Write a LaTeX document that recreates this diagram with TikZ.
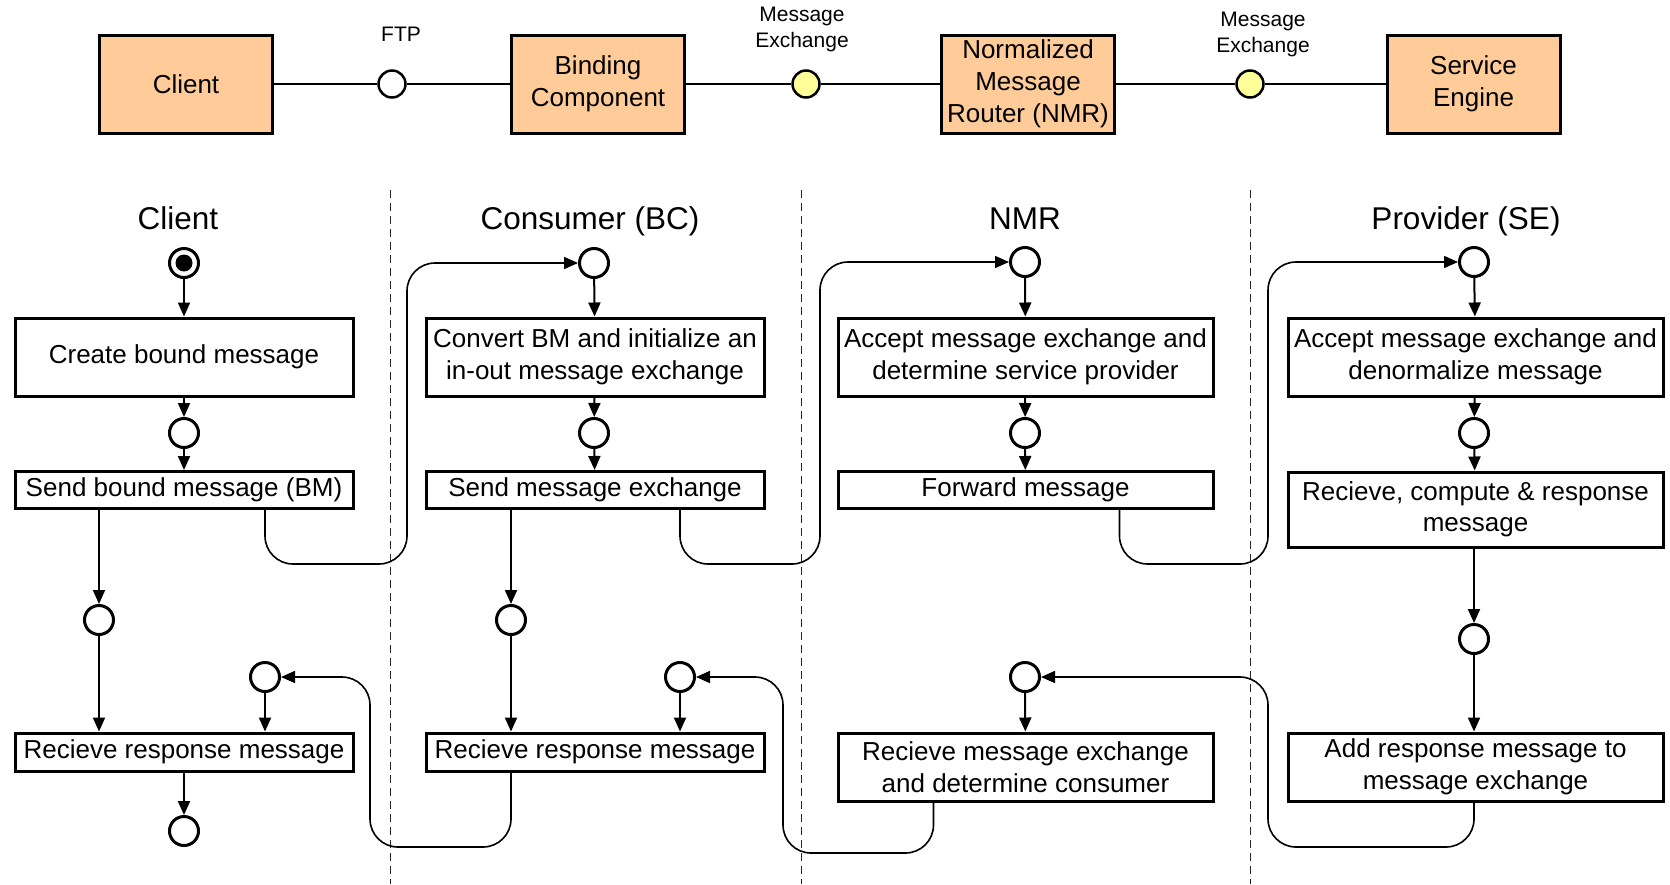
\documentclass[tikz,border=0pt]{standalone}
\usepackage{fontspec}
\setmainfont{Liberation Sans}
\usetikzlibrary{arrows.meta,calc}
\definecolor{boxfill}{HTML}{FFCC99}
\definecolor{yel}{HTML}{FFFF99}
\begin{document}
\begin{tikzpicture}[x=1pt,y=-1pt,
  comp/.style={draw, line width=3pt, fill=boxfill, minimum width=173pt, minimum height=98pt, align=center, font=\fontsize{26}{32}\selectfont, inner sep=0pt},
  act/.style={draw, line width=3pt, align=center, font=\fontsize{26}{31.5}\selectfont, inner sep=0pt},
  st/.style={circle, draw, line width=3pt, minimum size=29pt, inner sep=0pt},
  port/.style={circle, draw, line width=2.5pt, minimum size=27pt, inner sep=0pt},
  lbl/.style={font=\fontsize{21}{26}\selectfont, align=center},
  hdr/.style={font=\fontsize{31.5}{36}\selectfont, anchor=base},
  link/.style={line width=1.8pt},
  arr/.style={line width=2pt, -{Triangle[length=14pt,width=12pt]}},
  flow/.style={line width=1.6pt, rounded corners=28pt, -{Triangle[length=14pt,width=12pt]}},
  lane/.style={line width=1pt, draw=black!85, dash pattern=on 8pt off 5pt}
]
\useasboundingbox (0,0) rectangle (1670,884);

% ---------- top row ----------
\node[comp] (client) at (186,84) {Client};
\node[port] (ftp) at (392,84) {};
\node[comp] (bc) at (598,84) {Binding\\Component};
\node[port, fill=yel] (mx1) at (806,84) {};
\node[comp] (nmr) at (1028,84) {Normalized\\Message\\Router (NMR)};
\node[port, fill=yel] (mx2) at (1250,84) {};
\node[comp] (se) at (1473.5,84) {Service\\Engine};
\node[lbl] (ftpl) at (401,34) {FTP};
\node[lbl] (mx1l) at (802,29) {Message\\Exchange};
\node[lbl] (mx2l) at (1263,34) {Message\\Exchange};
\draw[link] (client) -- (ftp) -- (bc) -- (mx1) -- (nmr) -- (mx2) -- (se);

% ---------- swimlane separators ----------
\draw[lane] (390,190) -- (390,884);
\draw[lane] (801,190) -- (801,884);
\draw[lane] (1250,190) -- (1250,884);

% ---------- headers ----------
\node[hdr] (h1) at (178,229) {Client};
\node[hdr] (h2) at (590,229) {Consumer (BC)};
\node[hdr] (h3) at (1025,229) {NMR};
\node[hdr] (h4) at (1466,229) {Provider (SE)};

% ---------- Client lane ----------
\node[st] (c1) at (184,263) {};
\node[circle, fill, minimum size=17pt, inner sep=0pt] (c1dot) at (184,263) {};
\node[act, minimum width=338pt, minimum height=78pt] (create) at (184,357) {Create bound message};
\node[st] (c1m) at (184,433) {};
\node[act, minimum width=338pt, minimum height=37pt] (sendbm) at (184,490) {Send bound message (BM)};
\node[st] (c1d) at (99,620) {};
\node[st] (r1) at (265,677) {};
\node[act, minimum width=338pt, minimum height=38pt] (recv1) at (184,752) {Recieve response message};
\node[st] (c1end) at (184,831) {};

\draw[arr] (c1) -- (create);
\draw[arr] (create) -- (c1m);
\draw[arr] (c1m) -- (sendbm);
\draw[arr] (sendbm.south -| c1d) -- (c1d);
\draw[arr] (c1d) -- (c1d |- recv1.north);
\draw[arr] (r1) -- (r1 |- recv1.north);
\draw[arr] (recv1) -- (c1end);

% ---------- Consumer lane ----------
\node[st] (c2) at (594,263) {};
\node[act, minimum width=338pt, minimum height=78pt] (convert) at (595,357) {Convert BM and initialize an\\in-out message exchange};
\node[st] (c2m) at (594,433) {};
\node[act, minimum width=338pt, minimum height=37pt] (sendme) at (595,490) {Send message exchange};
\node[st] (c2d) at (511,620) {};
\node[st] (r2) at (680,677) {};
\node[act, minimum width=338pt, minimum height=38pt] (recv2) at (595,752) {Recieve response message};

\draw[arr] (c2) -- (convert);
\draw[arr] (convert) -- (c2m);
\draw[arr] (c2m) -- (sendme);
\draw[arr] (sendme.south -| c2d) -- (c2d);
\draw[arr] (c2d) -- (c2d |- recv2.north);
\draw[arr] (r2) -- (r2 |- recv2.north);

% ---------- NMR lane ----------
\node[st] (c3) at (1025,262) {};
\node[act, minimum width=375pt, minimum height=78pt] (accept1) at (1025.5,357) {Accept message exchange and\\determine service provider};
\node[st] (c3m) at (1025,433) {};
\node[act, minimum width=375pt, minimum height=37pt] (fwd) at (1025.5,490) {Forward message};
\node[st] (r3) at (1025,677) {};
\node[act, minimum width=375pt, minimum height=68pt] (recvnmr) at (1025.5,767) {Recieve message exchange\\and determine consumer};

\draw[arr] (c3) -- (accept1);
\draw[arr] (accept1) -- (c3m);
\draw[arr] (c3m) -- (fwd);
\draw[arr] (r3) -- (recvnmr);

% ---------- Provider lane ----------
\node[st] (c4) at (1474,262) {};
\node[act, minimum width=375pt, minimum height=78pt] (accept2) at (1475.5,357) {Accept message exchange and\\denormalize message};
\node[st] (c4m) at (1474,433) {};
\node[act, minimum width=375pt, minimum height=75pt] (compute) at (1475.5,509.5) {Recieve, compute \& response\\message};
\node[st] (c4d) at (1474,639) {};
\node[act, minimum width=375pt, minimum height=68pt] (add) at (1475.5,767) {Add response message to\\message exchange};

\draw[arr] (c4) -- (accept2);
\draw[arr] (accept2) -- (c4m);
\draw[arr] (c4m) -- (compute);
\draw[arr] (compute.south -| c4d) -- (c4d);
\draw[arr] (c4d) -- (c4d |- add.north);

% ---------- cross-lane flows ----------
\draw[flow] (sendbm.south -| r1) |- (407,564) |- (c2);
\draw[flow] (sendme.south -| r2) |- (820,564) |- (c3);
\draw[flow] ([xshift=94pt]fwd.south) |- (1268,564) |- (c4);
\draw[flow] (add.south -| c4d) |- (1268,847) |- (r3);
\draw[flow] ([xshift=-92pt]recvnmr.south) |- (783,853) |- (r2);
\draw[flow] (recv2.south -| c2d) |- (370,847) |- (r1);
\end{tikzpicture}
\end{document}
